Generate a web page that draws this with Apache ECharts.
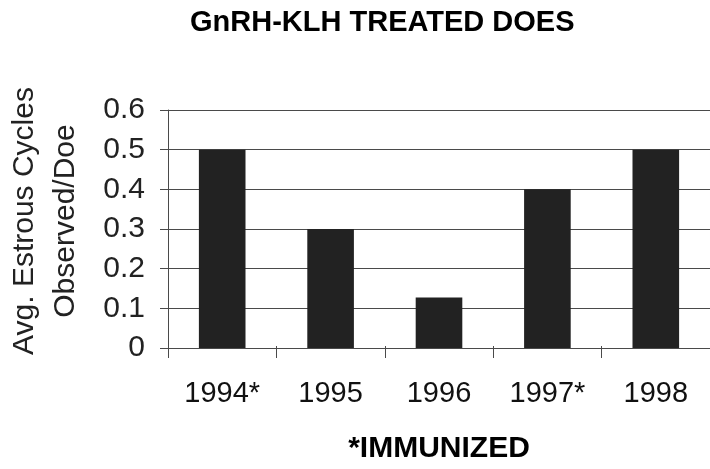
<!DOCTYPE html>
<html>
<head>
<meta charset="utf-8">
<script src="https://cdn.jsdelivr.net/npm/echarts@6/dist/echarts.min.js"></script>
<style>
html,body{margin:0;padding:0;background:#fff;}
#c{width:710px;height:469px;}
</style>
</head>
<body>
<div id="c"></div>
<script>
const categories = ['1994*', '1995', '1996', '1997*', '1998'];
const values = [0.5, 0.3, 0.127, 0.4, 0.5];
const yTicks = { min: 0, max: 0.6, interval: 0.1 };
const titleText = 'GnRH-KLH TREATED DOES';
const yAxisTitle = 'Avg. Estrous Cycles\nObserved/Doe';
const xAxisTitle = '*IMMUNIZED';

const FONT = '"Liberation Sans", Arial, Helvetica, sans-serif';
const chart = echarts.init(document.getElementById('c'), null, { renderer: 'canvas' });
const lineColor = '#4a4a4a';
const gridTop = 110, gridBottom = 113, gridHeight = 469 - gridTop - gridBottom;
chart.setOption({
  animation: false,
  backgroundColor: '#ffffff',
  grid: { left: 168, top: gridTop, width: 551, bottom: gridBottom },
  graphic: [
    { type: 'text', left: 390 - 200, top: 8,
      style: { text: titleText, font: 'bold 29px ' + FONT, fill: '#000', width: 400, align: 'center' } },
    { type: 'text', x: 45, y: 221, rotation: Math.PI / 2,
      style: { text: yAxisTitle, font: '30px ' + FONT, fill: '#222', align: 'center', verticalAlign: 'middle', lineHeight: 41 } }
  ],
  xAxis: [{
    type: 'category',
    data: categories,
    position: 'bottom',
    axisLine: { show: true, lineStyle: { color: lineColor, width: 1 } },
    axisTick: { show: true, length: 10, alignWithLabel: false, lineStyle: { color: lineColor } },
    axisLabel: { fontFamily: FONT, fontSize: 29, color: '#111', margin: 31 },
    name: xAxisTitle,
    nameLocation: 'middle',
    nameGap: 86,
    nameTextStyle: { fontFamily: FONT, fontSize: 30, fontWeight: 'bold', color: '#000' }
  }, {
    type: 'category',
    data: categories,
    position: 'top',
    offset: -gridHeight,
    axisLine: { show: false },
    axisTick: { show: true, inside: false, length: 10, lineStyle: { color: lineColor } },
    axisLabel: { show: false }
  }],
  yAxis: {
    type: 'value',
    min: yTicks.min, max: yTicks.max, interval: yTicks.interval,
    axisLine: { show: true, lineStyle: { color: lineColor, width: 1 } },
    axisTick: { show: true, length: 8, lineStyle: { color: lineColor } },
    splitLine: { show: true, lineStyle: { color: lineColor, width: 1 } },
    axisLabel: { fontFamily: FONT, fontSize: 30, color: '#222', margin: 23,
      formatter: v => (Math.round(v * 10) / 10).toString() }
  },
  series: [{
    type: 'bar',
    data: values,
    barWidth: '43%',
    itemStyle: { color: '#222222' }
  }]
});
</script>
</body>
</html>
